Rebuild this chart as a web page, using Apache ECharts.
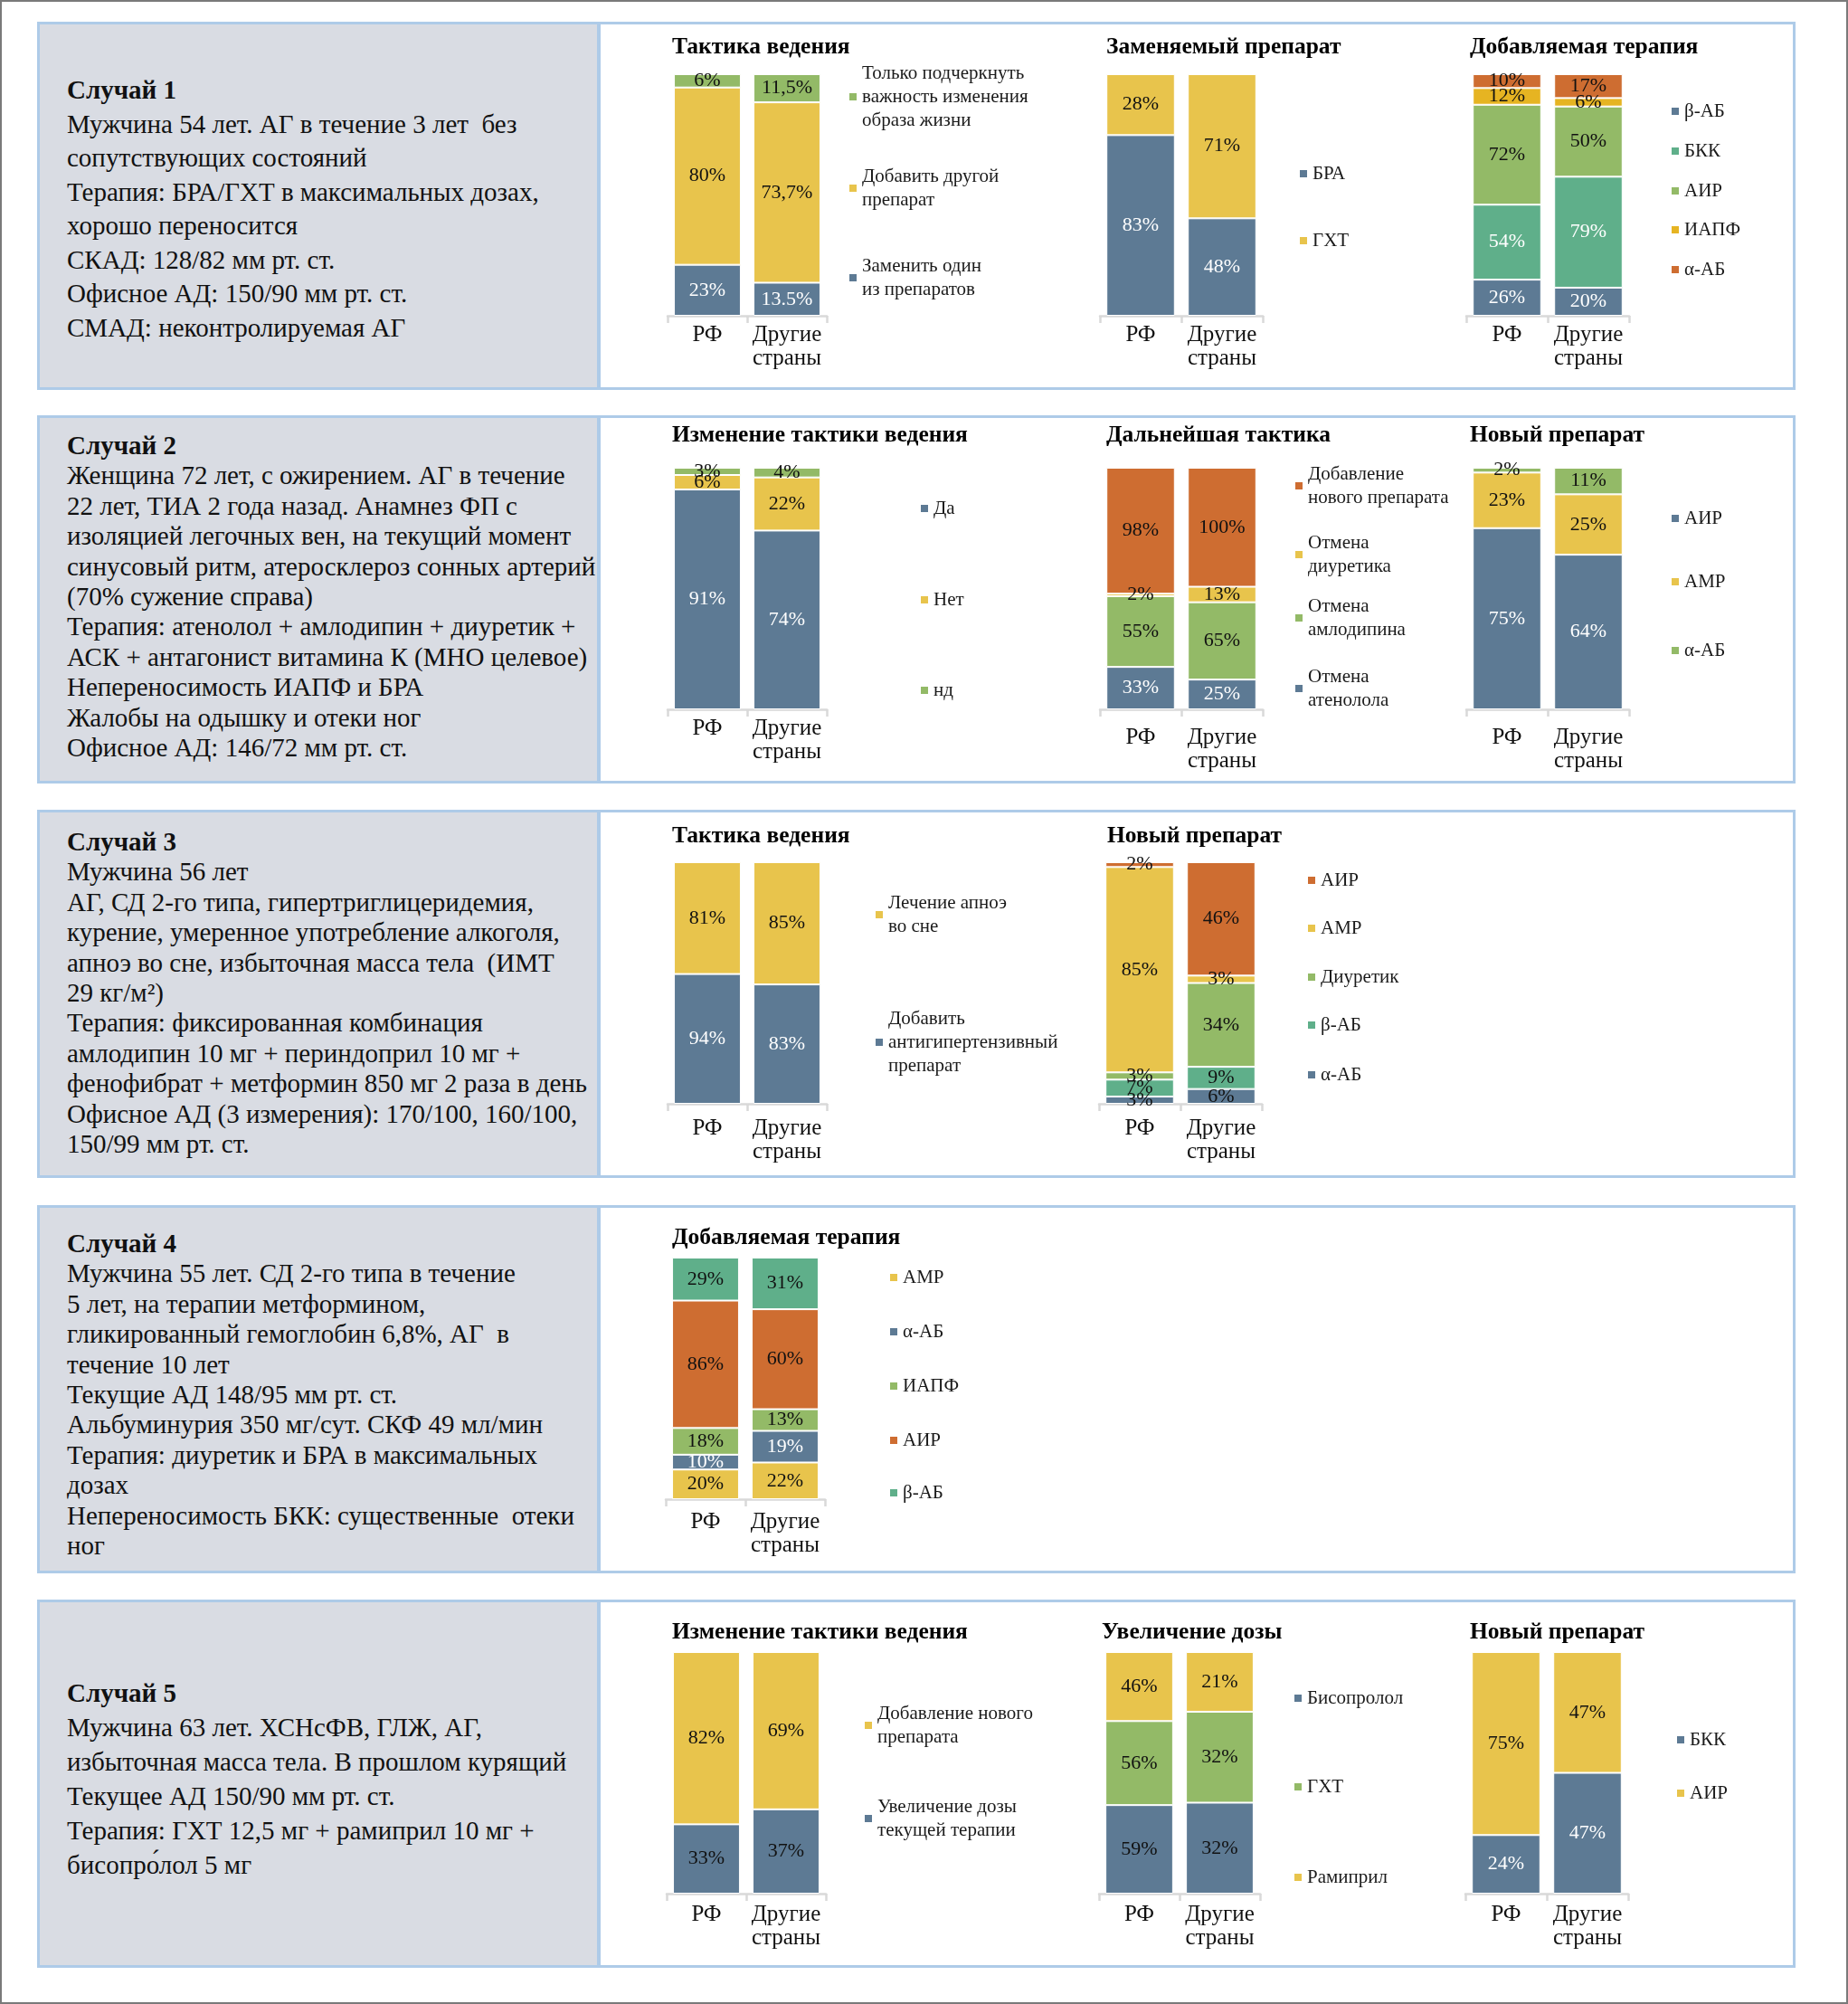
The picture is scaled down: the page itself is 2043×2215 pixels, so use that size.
<!DOCTYPE html>
<html>
<head>
<meta charset="utf-8">
<script src="https://cdn.jsdelivr.net/npm/echarts@6/dist/echarts.min.js"></script>
<style>
html,body{margin:0;padding:0;width:2043px;height:2215px;overflow:hidden;background:#fff;}
#frame{position:absolute;left:0;top:0;width:2043px;height:2215px;border:2px solid #7a7a7a;box-sizing:border-box;}
.gray{position:absolute;left:41px;width:622px;background:#D9DCE3;border:3px solid #AECBE8;box-sizing:border-box;}
.white{position:absolute;left:661px;width:1324px;background:#fff;border:3px solid #AECBE8;box-sizing:border-box;}
.txt{position:absolute;left:74px;font-family:'Liberation Serif','Times New Roman',serif;font-size:29px;color:#111;white-space:pre;}
.chart{position:absolute;left:662px;width:1322px;}
</style>
</head>
<body>
<div id="frame"></div>
<script>
// ---------------- DATA ----------------
const CATEGORIES = ['РФ', 'Другие\nстраны'];

// Case texts
const case1Text = ['Случай 1',
  'Мужчина 54 лет. АГ в течение 3 лет  без',
  'сопутствующих состояний',
  'Терапия: БРА/ГХТ в максимальных дозах,',
  'хорошо переносится',
  'СКАД: 128/82 мм рт. ст.',
  'Офисное АД: 150/90 мм рт. ст.',
  'СМАД: неконтролируемая АГ'];
const case2Text = ['Случай 2',
  'Женщина 72 лет, с ожирением. АГ в течение',
  '22 лет, ТИА 2 года назад. Анамнез ФП с',
  'изоляцией легочных вен, на текущий момент',
  'синусовый ритм, атеросклероз сонных артерий',
  '(70% сужение справа)',
  'Терапия: атенолол + амлодипин + диуретик +',
  'АСК + антагонист витамина К (МНО целевое)',
  'Непереносимость ИАПФ и БРА',
  'Жалобы на одышку и отеки ног',
  'Офисное АД: 146/72 мм рт. ст.'];
const case3Text = ['Случай 3',
  'Мужчина 56 лет',
  'АГ, СД 2-го типа, гипертриглицеридемия,',
  'курение, умеренное употребление алкоголя,',
  'апноэ во сне, избыточная масса тела  (ИМТ',
  '29 кг/м²)',
  'Терапия: фиксированная комбинация',
  'амлодипин 10 мг + периндоприл 10 мг +',
  'фенофибрат + метформин 850 мг 2 раза в день',
  'Офисное АД (3 измерения): 170/100, 160/100,',
  '150/99 мм рт. ст.'];
const case4Text = ['Случай 4',
  'Мужчина 55 лет. СД 2-го типа в течение',
  '5 лет, на терапии метформином,',
  'гликированный гемоглобин 6,8%, АГ  в',
  'течение 10 лет',
  'Текущие АД 148/95 мм рт. ст.',
  'Альбуминурия 350 мг/сут. СКФ 49 мл/мин',
  'Терапия: диуретик и БРА в максимальных',
  'дозах',
  'Непереносимость БКК: существенные  отеки',
  'ног'];
const case5Text = ['Случай 5',
  'Мужчина 63 лет. ХСНсФВ, ГЛЖ, АГ,',
  'избыточная масса тела. В прошлом курящий',
  'Текущее АД 150/90 мм рт. ст.',
  'Терапия: ГХТ 12,5 мг + рамиприл 10 мг +',
  'бисопро\u0301лол 5 мг'];

// Case 1 — series listed bottom → top
const c1aTitle = 'Тактика ведения';
const c1aNames = ['Заменить один\nиз препаратов', 'Добавить другой\nпрепарат', 'Только подчеркнуть\nважность изменения\nобраза жизни'];
const c1aRF = [23, 80, 6];
const c1aOther = [13.5, 73.7, 11.5];
const c1aOtherLabels = ['13.5%', '73,7%', '11,5%'];

const c1bTitle = 'Заменяемый препарат';
const c1bNames = ['БРА', 'ГХТ'];
const c1bRF = [83, 28];
const c1bOther = [48, 71];

const c1cTitle = 'Добавляемая терапия';
const c1cNames = ['β-АБ', 'БКК', 'АИР', 'ИАПФ', 'α-АБ'];
const c1cRF = [26, 54, 72, 12, 10];
const c1cOther = [20, 79, 50, 6, 17];

// Case 2
const c2aTitle = 'Изменение тактики ведения';
const c2aNames = ['Да', 'Нет', 'нд'];
const c2aRF = [91, 6, 3];
const c2aOther = [74, 22, 4];

const c2bTitle = 'Дальнейшая тактика';
const c2bNames = ['Отмена\nатенолола', 'Отмена\nамлодипина', 'Отмена\nдиуретика', 'Добавление\nнового препарата'];
const c2bRF = [33, 55, 2, 98];
const c2bOther = [25, 65, 13, 100];

const c2cTitle = 'Новый препарат';
const c2cNames = ['АИР', 'АМР', 'α-АБ'];
const c2cRF = [75, 23, 2];
const c2cOther = [64, 25, 11];

// Case 3
const c3aTitle = 'Тактика ведения';
const c3aNames = ['Добавить\nантигипертензивный\nпрепарат', 'Лечение апноэ\nво сне'];
const c3aRF = [94, 81];
const c3aOther = [83, 85];

const c3bTitle = 'Новый препарат';
const c3bNames = ['α-АБ', 'β-АБ', 'Диуретик', 'АМР', 'АИР'];
const c3bRF = [3, 7, 3, 85, 2];
const c3bOther = [6, 9, 34, 3, 46];

// Case 4
const c4aTitle = 'Добавляемая терапия';
const c4aNames = ['АМР', 'α-АБ', 'ИАПФ', 'АИР', 'β-АБ'];
const c4aRF = [20, 10, 18, 86, 29];
const c4aOther = [22, 19, 13, 60, 31];

// Case 5
const c5aTitle = 'Изменение тактики ведения';
const c5aNames = ['Увеличение дозы\nтекущей терапии', 'Добавление нового\nпрепарата'];
const c5aRF = [33, 82];
const c5aOther = [37, 69];

const c5bTitle = 'Увеличение дозы';
const c5bNames = ['Бисопролол', 'ГХТ', 'Рамиприл'];
const c5bRF = [59, 56, 46];
const c5bOther = [32, 32, 21];

const c5cTitle = 'Новый препарат';
const c5cNames = ['БКК', 'АИР'];
const c5cRF = [24, 75];
const c5cOther = [47, 47];

// ---------------- STYLE / LAYOUT ----------------
const FONT = "'Liberation Serif', 'Times New Roman', serif";
const BLUE = '#5D7A94', YELLOW = '#E8C44C', GREEN = '#93BA67', TEAL = '#5FAF8A', ORANGE = '#CE6D31', GOLD = '#E6B422';
const W = '#ffffff', D = '#111111';
const CASE_TOP = [25, 460, 896, 1333, 1769];
const CASE_H = 405;
const TEXT_TOP = [81, 476, 914, 1358, 1852];
const TEXT_LH = [37.5, 33.4, 33.4, 33.4, 38];

const cases = [
  { text: case1Text, charts: [
    {title:c1aTitle, tx:81, ty:14, gl:76, gw:176, names:c1aNames, rf:c1aRF, other:c1aOther, otherText:c1aOtherLabels,
     colors:[BLUE, YELLOW, GREEN], lbl:[W, D, D], order:[2,1,0], lx:275, ly:[82,183,282], margin:8},
    {title:c1bTitle, tx:561, ty:14, gl:554, gw:180, names:c1bNames, rf:c1bRF, other:c1bOther,
     colors:[BLUE, YELLOW], lbl:[W, D], order:[0,1], lx:773, ly:[167,241], margin:8},
    {title:c1cTitle, tx:963, ty:14, gl:959, gw:180, names:c1cNames, rf:c1cRF, other:c1cOther,
     colors:[BLUE, TEAL, GREEN, GOLD, ORANGE], lbl:[W, W, D, D, D], order:[0,1,2,3,4], lx:1184, ly:[98,142,186,229,273], margin:8}
  ]},
  { text: case2Text, charts: [
    {title:c2aTitle, tx:81, ty:8, gl:76, gw:176, names:c2aNames, rf:c2aRF, other:c2aOther,
     colors:[BLUE, YELLOW, GREEN], lbl:[W, D, D], order:[0,1,2], lx:354, ly:[102,203,303], margin:8},
    {title:c2bTitle, tx:561, ty:8, gl:554, gw:180, names:c2bNames, rf:c2bRF, other:c2bOther,
     colors:[BLUE, GREEN, YELLOW, ORANGE], lbl:[W, D, D, D], order:[3,2,1,0], lx:768, ly:[77,153,223,301], margin:18},
    {title:c2cTitle, tx:963, ty:8, gl:959, gw:180, names:c2cNames, rf:c2cRF, other:c2cOther,
     colors:[BLUE, YELLOW, GREEN], lbl:[W, D, D], order:[0,1,2], lx:1184, ly:[113,183,259], margin:18}
  ]},
  { text: case3Text, charts: [
    {title:c3aTitle, tx:81, ty:15, gl:76, gw:176, names:c3aNames, rf:c3aRF, other:c3aOther,
     colors:[BLUE, YELLOW], lbl:[W, D], order:[1,0], lx:304, ly:[115,256], margin:14},
    {title:c3bTitle, tx:562, ty:15, gl:553, gw:180, names:c3bNames, rf:c3bRF, other:c3bOther,
     colors:[BLUE, TEAL, GREEN, YELLOW, ORANGE], lbl:[D, D, D, D, D], order:[4,3,2,1,0], lx:782, ly:[77,130,184,237,292], margin:14}
  ]},
  { text: case4Text, charts: [
    {title:c4aTitle, tx:81, ty:22, gl:74, gw:176, names:c4aNames, rf:c4aRF, other:c4aOther,
     colors:[YELLOW, BLUE, GREEN, ORANGE, TEAL], lbl:[D, W, D, D, D], order:[0,1,2,3,4], lx:320, ly:[79,139,199,259,317], margin:12}
  ]},
  { text: case5Text, charts: [
    {title:c5aTitle, tx:81, ty:22, gl:75, gw:176, names:c5aNames, rf:c5aRF, other:c5aOther,
     colors:[BLUE, YELLOW], lbl:[D, D], order:[1,0], lx:292, ly:[138,241], margin:10},
    {title:c5bTitle, tx:556, ty:22, gl:553, gw:178, names:c5bNames, rf:c5bRF, other:c5bOther,
     colors:[BLUE, GREEN, YELLOW], lbl:[D, D, D], order:[0,1,2], lx:767, ly:[108,206,306], margin:10},
    {title:c5cTitle, tx:963, ty:22, gl:958, gw:180, names:c5cNames, rf:c5cRF, other:c5cOther,
     colors:[BLUE, YELLOW], lbl:[W, D], order:[0,1], lx:1190, ly:[154,213], margin:10}
  ]}
];

function sum(a){ return a.reduce((s, v) => s + v, 0); }
function fmt(v){ return String(v).replace('.', ',') + '%'; }
function esc(s){ return s.replace(/&/g,'&amp;').replace(/</g,'&lt;'); }

function buildOption(specs){
  const opt = {animation:false, title:[], grid:[], xAxis:[], yAxis:[], series:[], legend:[]};
  specs.forEach((s, gi) => {
    opt.title.push({text:s.title, left:s.tx, top:s.ty, padding:0,
      textStyle:{fontFamily:FONT, fontSize:25.5, fontWeight:'bold', color:'#000'}});
    opt.grid.push({left:s.gl, width:s.gw, top:57, height:267, containLabel:false});
    opt.xAxis.push({type:'category', gridIndex:gi, data:CATEGORIES,
      axisLine:{show:true, lineStyle:{color:'#D9D9D9', width:2.5}},
      axisTick:{show:true, length:8, lineStyle:{color:'#D9D9D9', width:2.5}},
      axisLabel:{fontFamily:FONT, fontSize:25, lineHeight:26, color:'#111', margin:s.margin, interval:0}});
    opt.yAxis.push({type:'value', gridIndex:gi, min:0, max:100, show:false, splitLine:{show:false}});
    const totRF = sum(s.rf), totOT = sum(s.other);
    s.names.forEach((n, i) => {
      opt.series.push({type:'bar', name:n, xAxisIndex:gi, yAxisIndex:gi, stack:'st' + gi, barWidth:'84%',
        itemStyle:{color:s.colors[i], borderColor:'#ffffff', borderWidth:1},
        label:{show:true, position:'inside', fontFamily:FONT, fontSize:22, color:s.lbl[i],
          textBorderWidth:0, formatter:p => p.data.text},
        data:[
          {value:s.rf[i] / totRF * 100, text:fmt(s.rf[i])},
          {value:s.other[i] / totOT * 100, text:s.otherText ? s.otherText[i] : fmt(s.other[i])}
        ]});
    });
    s.order.forEach((idx, k) => {
      const name = s.names[idx];
      const nl = name.split('\n').length;
      opt.legend.push({data:[name], orient:'vertical', left:s.lx, top:s.ly[k] - nl * 13, padding:0,
        icon:'rect', itemWidth:10, itemHeight:10, selectedMode:false,
        textStyle:{fontFamily:FONT, fontSize:21, lineHeight:26, color:'#1a1a1a'}});
    });
  });
  return opt;
}

cases.forEach((c, i) => {
  const top = CASE_TOP[i];
  const g = document.createElement('div'); g.className = 'gray';
  g.style.top = (top - 1) + 'px'; g.style.height = (CASE_H + 2) + 'px';
  document.body.appendChild(g);
  const w = document.createElement('div'); w.className = 'white';
  w.style.top = (top - 1) + 'px'; w.style.height = (CASE_H + 2) + 'px';
  document.body.appendChild(w);
  const t = document.createElement('div'); t.className = 'txt';
  t.style.top = TEXT_TOP[i] + 'px'; t.style.lineHeight = TEXT_LH[i] + 'px';
  t.innerHTML = '<b>' + esc(c.text[0]) + '</b>\n' + c.text.slice(1).map(esc).join('\n');
  document.body.appendChild(t);
  const ch = document.createElement('div'); ch.className = 'chart';
  ch.style.top = top + 'px'; ch.style.height = CASE_H + 'px';
  document.body.appendChild(ch);
  const inst = echarts.init(ch, null, {renderer:'canvas'});
  inst.setOption(buildOption(c.charts));
});
</script>
</body>
</html>
